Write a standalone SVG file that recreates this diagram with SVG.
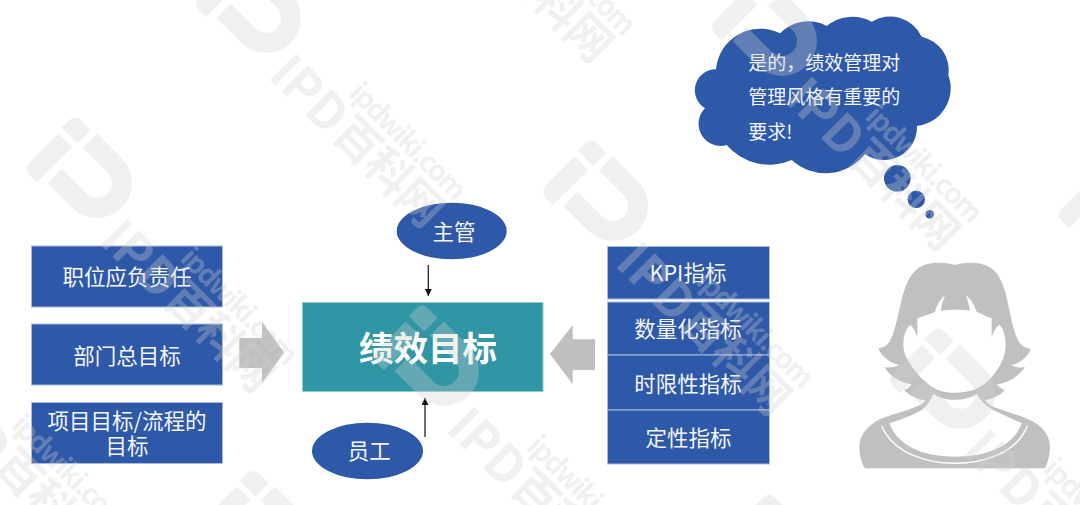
<svg xmlns="http://www.w3.org/2000/svg" width="1080" height="505" viewBox="0 0 1080 505">
<style>
text{font-family:"Noto Sans CJK SC","Noto Sans",sans-serif}
.box{fill:#2e58a8;stroke:#a9bbdf;stroke-width:1}
.ell{fill:#2e58a8}
.t{fill:#f4f6fb;font-size:21.5px;text-anchor:middle}
.c{fill:#f4f6fb;font-size:19px}
.line{stroke:#222;stroke-width:1.3;fill:none;marker-end:url(#ah)}
.block{fill:#bfbfbf}
.wm{fill:#d0d0d0;fill-opacity:.32}
</style>
<defs>
<marker id="ah" markerUnits="userSpaceOnUse" markerWidth="8" markerHeight="8" refX="7" refY="3.5" orient="auto"><path d="M0 0L7 3.5L0 7Z" fill="#111"/></marker>
<g id="wmk">
<path d="M-35-35H0A35 35 0 0 1 0 35H-35V15H0A15 15 0 0 0 0-15H-35Z"/>
<path d="M-42-33H-55Q-64-33-64-24V-14H-42Z"/>
<path d="M-43-8H-62V32Q-62 42-52 42H-43Z"/>
<text x="42" y="41" font-size="50" font-weight="700" font-family="Noto Sans,sans-serif">IPD</text>
<text x="129" y="38" font-size="45" font-weight="700" letter-spacing="-1">百科网</text>
<text x="112" y="-3.5" font-size="28" font-weight="700" font-family="Liberation Sans,sans-serif" textLength="152">ipdwiki.com</text>
</g>
</defs>
<rect width="1080" height="505" fill="#fff"/>
<g id="person" transform="translate(840 250) scale(.33333)">
<path fill="#c0c0c0" d="M345 45C320 38 290 36 262 42C225 50 203 85 190 130C178 175 170 225 155 262C148 282 135 293 115 295C125 320 150 340 177 345C165 352 150 353 133 352C150 380 180 398 215 403C208 412 200 418 192 420C210 438 230 446 250 450C255 448 258 455 245 462C215 480 160 490 120 508C85 525 58 555 58 590C58 615 65 640 75 655H615C625 635 630 612 630 590C630 555 605 525 565 508C525 490 475 480 445 462C435 452 432 448 438 450C458 446 478 438 495 420C485 418 478 412 470 403C505 398 535 380 555 352C538 353 525 352 513 345C540 340 565 320 572 297C550 293 537 282 530 262C515 225 508 175 497 130C485 85 465 50 425 42C397 36 370 38 345 45Z"/>
<path fill="#fff" d="M232 205C255 195 275 192 285 185C290 165 300 150 315 135C308 155 303 170 303 182C330 178 365 178 390 182C388 165 382 150 378 135C395 150 405 170 410 185C425 192 440 200 455 205C455 225 455 245 455 262C460 245 470 228 478 225C490 235 497 260 497 285C497 320 480 350 460 375C440 400 410 428 345 428C290 428 265 405 240 380C215 350 190 320 190 285C190 255 200 230 212 225C222 235 228 250 232 262Z"/>
<path fill="#fff" d="M280 432C310 455 380 455 410 432C420 450 435 465 455 478C480 490 510 505 545 520C520 590 440 620 345 620C250 620 175 590 148 520C180 510 220 495 245 480C260 470 272 450 280 432Z"/>
<path fill="none" stroke="#fff" stroke-width="4.5" d="M125 528C160 610 260 640 345 640C430 640 530 610 562 528"/>
</g>
<g id="thought-cloud">
<path class="ell" d="M716 69.3A44.5 44.5 0 0 1 780 33.3A38.5 38.5 0 0 1 826.7 26A40 40 0 0 1 871.7 21.7A35 35 0 0 1 921.7 36.7A34 34 0 0 1 948.3 75A38 38 0 0 1 917 126A33 33 0 0 1 865 154A50 50 0 0 1 791.7 160A56 56 0 0 1 726.7 145A22 22 0 0 1 705 108.3A21 21 0 0 1 716 69.3Z"/>
<circle class="ell" cx="897.3" cy="178.3" r="13.3"/>
<circle class="ell" cx="916.3" cy="199.3" r="8.7"/>
<circle class="ell" cx="929.7" cy="214.3" r="4.3"/>
<text class="c" x="748.3" y="69.5">是的&#xFF0C;绩效管理对</text>
<text class="c" x="748.3" y="104">管理风格有重要的</text>
<text class="c" x="748.3" y="138.5">要求!</text>
</g>
<g id="duty"><rect class="box" x="31.5" y="246" width="191" height="61"/><text class="t" x="127" y="284.5">职位应负责任</text></g>
<g id="dept"><rect class="box" x="31.5" y="324" width="191" height="61"/><text class="t" x="127" y="364">部门总目标</text></g>
<g id="project"><rect class="box" x="31.5" y="402.5" width="191" height="61"/><text class="t"><tspan x="127" y="429.3">项目目标/流程的</tspan><tspan x="127" y="454.3">目标</tspan></text></g>
<g id="kpi"><rect class="box" x="607.5" y="246.5" width="162" height="52.5"/><text class="t" x="688" y="281">KPI指标</text></g>
<g id="quant"><rect class="box" x="607.5" y="302" width="162" height="53"/><text class="t" x="688" y="337">数量化指标</text></g>
<g id="time"><rect class="box" x="607.5" y="355" width="162" height="55"/><text class="t" x="688" y="391.7">时限性指标</text></g>
<g id="qual"><rect class="box" x="607.5" y="410" width="162" height="54"/><text class="t" x="688.5" y="445.7">定性指标</text></g>
<g id="goal"><rect x="302.5" y="302.5" width="240.5" height="89" fill="#3096a6" stroke="#8fcbd3" stroke-width="1"/><text x="428" y="361" fill="#fff" font-size="34.5" font-weight="700" text-anchor="middle">绩效目标</text></g>
<g id="supervisor"><ellipse class="ell" cx="451.7" cy="231" rx="55" ry="28.3"/><text class="t" x="454" y="240">主管</text></g>
<g id="staff"><ellipse class="ell" cx="367.5" cy="451" rx="55.5" ry="28.3"/><text class="t" x="369.3" y="459.4">员工</text></g>
<g id="connectors">
<path class="line" d="M428.3 265V296"/>
<path class="line" d="M425 437V398"/>
<path class="block" d="M239.3 338H262V322L284 352.5L262 383V368H239.3Z"/>
<path class="block" d="M595 339.3H572.7V325L550 354L572.7 384.3V370H595Z"/>
</g>
<g id="watermark" class="wm">
<use href="#wmk" transform="translate(-72 350) rotate(45)"/>
<use href="#wmk" transform="translate(97 183) rotate(45)"/>
<use href="#wmk" transform="translate(266 18) rotate(45)"/>
<use href="#wmk" transform="translate(435 -147) rotate(45)"/>
<use href="#wmk" transform="translate(275 536) rotate(45)"/>
<use href="#wmk" transform="translate(444 371) rotate(45)"/>
<use href="#wmk" transform="translate(613 206) rotate(45)"/>
<use href="#wmk" transform="translate(782 41) rotate(45)"/>
<use href="#wmk" transform="translate(791 560) rotate(45)"/>
<use href="#wmk" transform="translate(960 394) rotate(45)"/>
<use href="#wmk" transform="translate(1129 229) rotate(45)"/>
</g>
</svg>
